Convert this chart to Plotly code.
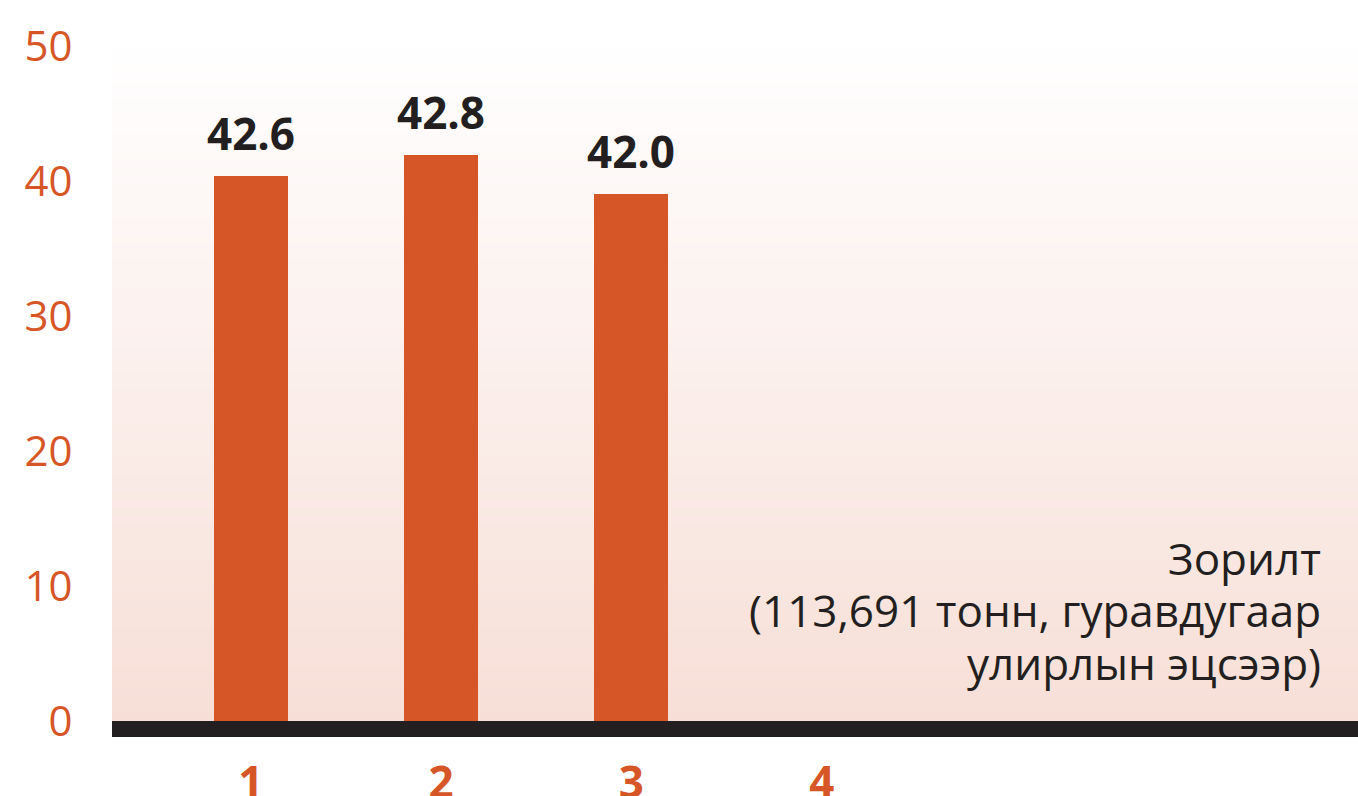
import plotly.graph_objects as go

# ---- data ----
categories = [1, 2, 3]
bar_values = [40.4, 41.9, 39.0]
value_labels = ["42.6", "42.8", "42.0"]
x_tick_vals = [1, 2, 3, 4]
x_tick_text = ["1", "2", "3", "4"]
y_tick_vals = [0, 10, 20, 30, 40, 50]
target_lines = ["Зорилт", "(113,691 тонн, гуравдугаар", "улирлын эцсээр)"]

ORANGE = "#d65627"
DARK = "#231f20"
FONT = "Open Sans"

fig = go.Figure()
fig.add_trace(go.Bar(
    x=categories, y=bar_values, width=0.389,
    marker=dict(color=ORANGE, line=dict(width=0)),
    hoverinfo="skip", showlegend=False,
))

# value labels above bars
for xv, yv, t in zip(categories, bar_values, value_labels):
    fig.add_annotation(x=xv, y=yv, text=f"<b>{t}</b>", showarrow=False,
                       yanchor="bottom", yshift=11,
                       font=dict(family=FONT, size=44, color=DARK))

# target annotation (one line per annotation for tight line spacing)
line_y = [12.1, 8.2, 4.3]
for ly, t in zip(line_y, target_lines):
    fig.add_annotation(xref="paper", yref="y", x=0.972, y=ly,
                       text=t, showarrow=False, align="right",
                       xanchor="right", yanchor="middle",
                       font=dict(family=FONT, size=44, color=DARK))

# gradient background (styling)
shapes = []
n = 80
top = (255, 255, 255)
bot = (247, 223, 215)
for i in range(n):
    f = (i + 0.5) / n  # 0 bottom -> 1 top
    c = tuple(round(bot[k] + (top[k] - bot[k]) * f) for k in range(3))
    shapes.append(dict(type="rect", xref="paper", yref="paper",
                       x0=0, x1=1, y0=i / n, y1=(i + 1) / n + 0.002,
                       fillcolor=f"rgb{c}", line=dict(width=0), layer="below"))
# thick baseline
shapes.append(dict(type="rect", xref="paper", yref="paper",
                   x0=0, x1=1, y0=-16 / 681, y1=0,
                   fillcolor=DARK, line=dict(width=0), layer="above"))

fig.update_layout(
    width=1358, height=796,
    margin=dict(l=112, r=0, t=40, b=75, autoexpand=False),
    paper_bgcolor="white", plot_bgcolor="rgba(0,0,0,0)",
    shapes=shapes, bargap=0,
    xaxis=dict(range=[0.2706, 6.818], tickvals=x_tick_vals, ticktext=x_tick_text,
               showgrid=False, zeroline=False, showline=False, automargin=False,
               ticks="outside", ticklen=23, tickcolor="rgba(0,0,0,0)",
               tickfont=dict(family=FONT, size=44, color=ORANGE, weight="bold")),
    yaxis=dict(range=[0, 50.44], tickvals=y_tick_vals,
               showgrid=False, zeroline=False, showline=False, automargin=False,
               ticks="outside", ticklen=30, tickcolor="rgba(0,0,0,0)",
               tickfont=dict(family=FONT, size=42, color=ORANGE)),
    font=dict(family=FONT),
)

fig.write_html("out.html",
               config={"displayModeBar": False, "staticPlot": True},
               post_script="document.body.style.margin='0';"
                           "document.body.style.overflow='hidden';")
